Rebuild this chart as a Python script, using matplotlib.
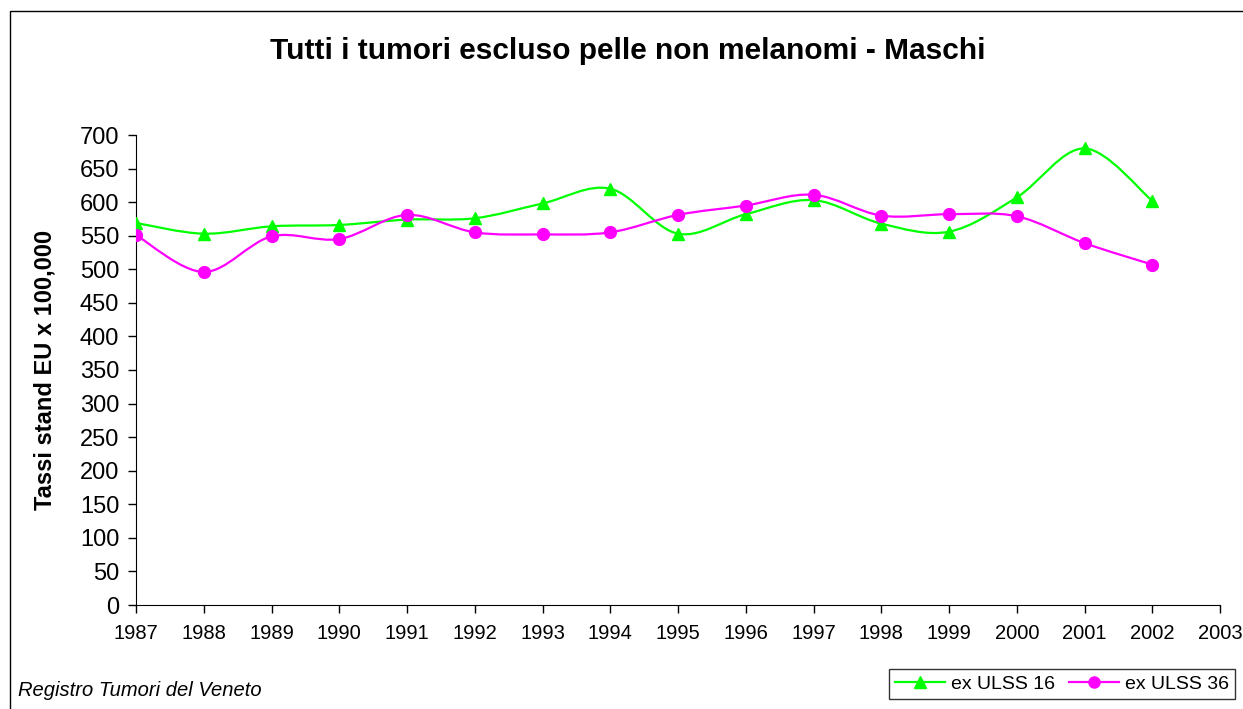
import numpy as np
import matplotlib
matplotlib.use('Agg')
import matplotlib.pyplot as plt
from matplotlib.path import Path
from matplotlib.patches import PathPatch, Rectangle
from matplotlib.lines import Line2D

plt.rcParams['font.family'] = ['Liberation Sans', 'DejaVu Sans']

# data
anni = [1987, 1988, 1989, 1990, 1991, 1992, 1993, 1994,
        1995, 1996, 1997, 1998, 1999, 2000, 2001, 2002]
ulss16 = [569, 553, 564, 566, 574, 576, 598, 620,
          553, 582, 603, 568, 556, 607, 680, 602]
ulss36 = [551, 496, 549, 545, 581, 555, 552, 555,
          581, 595, 611, 580, 582, 579, 539, 507]


def smooth_path(x, y):
    # Excel-like smoothed line: cubic Bezier segments through the points
    x = np.asarray(x, float)
    y = np.asarray(y, float)
    verts = [(x[0], y[0])]
    codes = [Path.MOVETO]
    n = len(x)
    for i in range(n - 1):
        i0 = max(i - 1, 0)
        i3 = min(i + 2, n - 1)
        c1 = (x[i] + (x[i + 1] - x[i0]) / 6, y[i] + (y[i + 1] - y[i0]) / 6)
        c2 = (x[i + 1] - (x[i3] - x[i]) / 6, y[i + 1] - (y[i3] - y[i]) / 6)
        verts += [c1, c2, (x[i + 1], y[i + 1])]
        codes += [Path.CURVE4] * 3
    return Path(verts, codes)


fig = plt.figure(figsize=(12.43, 7.09), dpi=100)
ax = fig.add_axes([136 / 1243, 1 - 605 / 709, (1220 - 136) / 1243, (605 - 135) / 709])

verde = '#00ff00'
magenta = '#ff00ff'

ax.add_patch(PathPatch(smooth_path(anni, ulss16), facecolor='none', edgecolor=verde, lw=1.6, zorder=3))
ax.add_patch(PathPatch(smooth_path(anni, ulss36), facecolor='none', edgecolor=magenta, lw=1.6, zorder=3))
ax.plot(anni, ulss16, ls='none', marker='^', color=verde, markersize=8, zorder=4)
ax.plot(anni, ulss36, ls='none', marker='o', color=magenta, markersize=8.5, zorder=4)

ax.set_xlim(1987, 2003)
ax.set_ylim(0, 700)
ax.set_xticks(range(1987, 2004))
ax.set_yticks(range(0, 701, 50))
ax.spines['top'].set_visible(False)
ax.spines['right'].set_visible(False)
ax.tick_params(axis='both', direction='out', length=6, width=1)
ax.tick_params(axis='y', labelsize=17, pad=6)
ax.tick_params(axis='x', labelsize=14.5, pad=8)
ax.set_ylabel('Tassi stand EU x 100,000', fontsize=17, fontweight='bold')
ax.yaxis.set_label_coords(-0.073, 0.5)

fig.text(628 / 1243, 1 - 51 / 709, 'Tutti i tumori escluso pelle non melanomi - Maschi',
         ha='center', va='center', fontsize=21.5, fontweight='bold')
fig.text(18 / 1243, 1 - 690 / 709, 'Registro Tumori del Veneto',
         ha='left', va='center', fontsize=14.5, style='italic')

# outer chart frame
fig.patches.append(Rectangle((10 / 1243, -0.01), 1.02, 1 - 11 / 709 + 0.01,
                             transform=fig.transFigure, fill=False, edgecolor='black', lw=1))

handles = [Line2D([], [], color=verde, marker='^', markersize=8, lw=1.6),
           Line2D([], [], color=magenta, marker='o', markersize=8, lw=1.6)]
leg = fig.legend(handles, ['ex ULSS 16', 'ex ULSS 36'], ncol=2,
                 loc='center', bbox_to_anchor=(1062 / 1243, 1 - 684 / 709),
                 frameon=True, fancybox=False, edgecolor='black', fontsize=14,
                 handlelength=2.6, columnspacing=0.7, handletextpad=0.3,
                 borderpad=0.3)
leg.get_frame().set_linewidth(1)

fig.savefig('out.png', dpi=100)
